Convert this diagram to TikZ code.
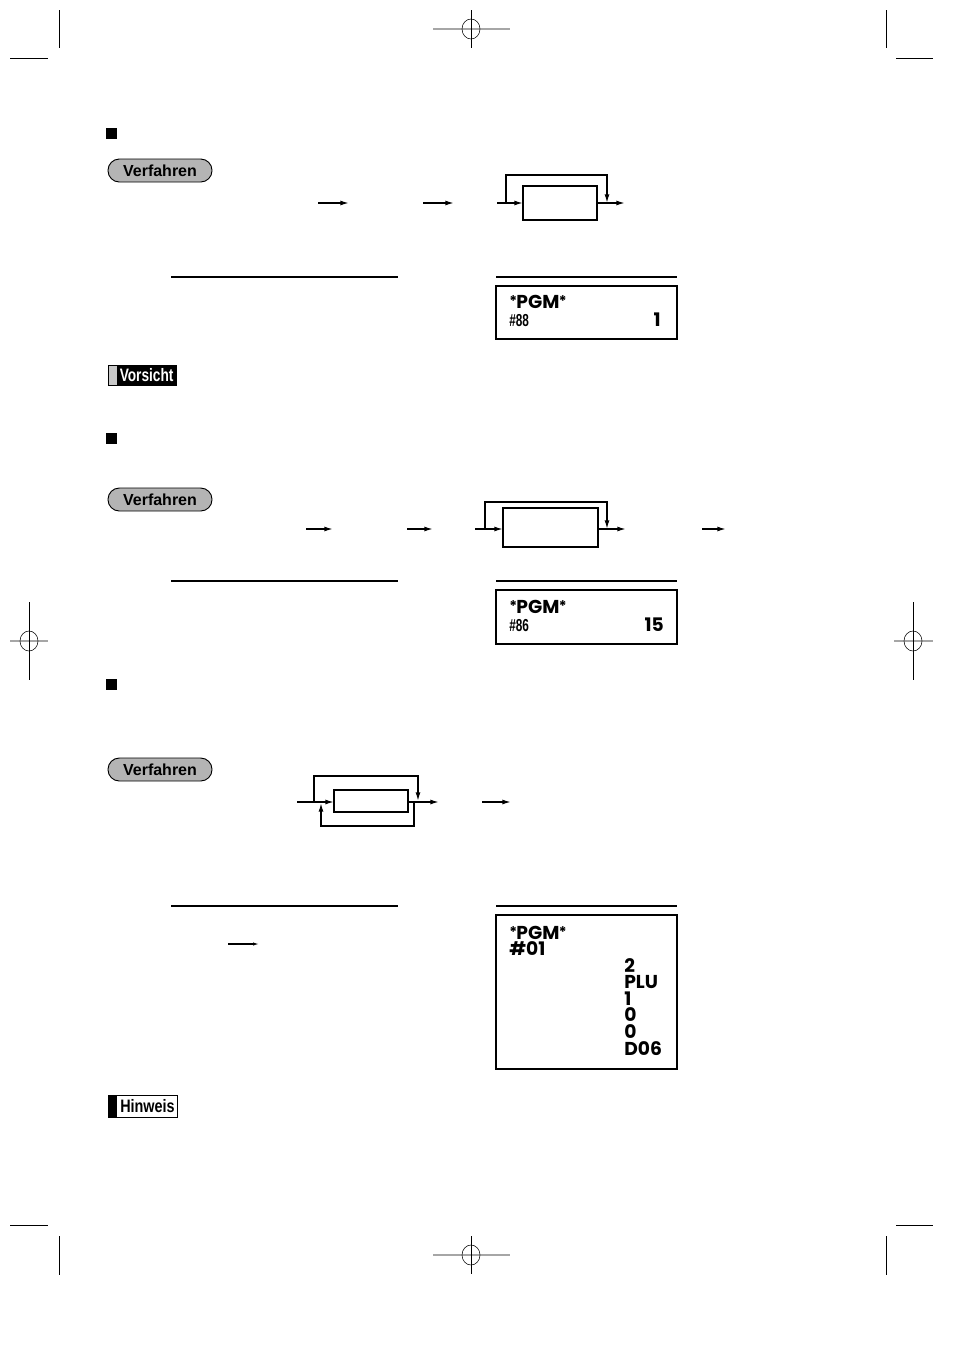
\documentclass[tikz,border=0pt]{standalone}
\usepackage{graphicx}
\usepackage{fontspec}
\setmainfont{Liberation Sans}
\newfontfamily\dispfont{Poppins}
\usetikzlibrary{arrows.meta}
\definecolor{pillgray}{HTML}{B4B4B4}
\definecolor{bargray}{HTML}{C8C8C8}
\newcommand\dispbig{\dispfont\bfseries\fontsize{14pt}{15pt}\selectfont}
\newcommand\dispcond[1]{\scalebox{0.68}[1]{\bfseries\fontsize{13pt}{14pt}\selectfont #1}}
\newcommand\smallast{\raisebox{1.5pt}{\fontsize{11pt}{12pt}\selectfont *}}
\newcommand\pgmtext{\smallast\kern-0.5pt PGM\kern-0.5pt\smallast}
\begin{document}
\begin{tikzpicture}[x=0.75pt,y=-0.75pt,
  flow/.style={line width=1.1pt,-{Latex[length=6.5pt,width=3.75pt]}},
  plain/.style={line width=1.1pt},
  rulel/.style={line width=0.8pt},
  emptybox/.style={draw,line width=1.1pt,inner sep=0pt,outer sep=0pt},
  display/.style={draw,line width=0.9pt,inner sep=0pt,outer sep=0pt,minimum width=135.75pt},
  pill/.style={draw,line width=0.7pt,fill=pillgray,rounded corners=8.5pt,minimum width=78pt,minimum height=17.25pt,inner sep=0pt,font=\bfseries\fontsize{12pt}{13pt}\selectfont},
  bullet/.style={fill=black,minimum size=8.25pt,inner sep=0pt},
  crop/.style={line width=0.6pt},
  regv/.style={line width=0.4pt},
  regh/.style={line width=1.1pt,gray!70},
  dtext/.style={inner sep=0pt,anchor=base west,font=\dispbig},
  dtextr/.style={inner sep=0pt,anchor=base east,font=\dispbig}
]
\useasboundingbox (0,0) rectangle (954,1350);

% ---------- crop and registration marks ----------
\coordinate (tl1) at (59,10); \coordinate (tl2) at (59,48);
\coordinate (tl3) at (10,58); \coordinate (tl4) at (48,58);
\draw[crop] (tl1) -- (tl2); \draw[crop] (tl3) -- (tl4);
\coordinate (tr1) at (886,10); \coordinate (tr2) at (886,48);
\coordinate (tr3) at (896,58); \coordinate (tr4) at (933,58);
\draw[crop] (tr1) -- (tr2); \draw[crop] (tr3) -- (tr4);
\coordinate (bl1) at (59,1236); \coordinate (bl2) at (59,1275);
\coordinate (bl3) at (10,1225); \coordinate (bl4) at (48,1225);
\draw[crop] (bl1) -- (bl2); \draw[crop] (bl3) -- (bl4);
\coordinate (br1) at (886,1236); \coordinate (br2) at (886,1275);
\coordinate (br3) at (896,1225); \coordinate (br4) at (933,1225);
\draw[crop] (br1) -- (br2); \draw[crop] (br3) -- (br4);

% registration: top
\coordinate (rt) at (471,29);
\draw[regh] ([xshift=-28.5pt]rt) -- ([xshift=29.25pt]rt);
\draw[regv] ([yshift=14.25pt]rt) -- ([yshift=-14.25pt]rt);
\draw[regv] (rt) ellipse [x radius=6.75pt,y radius=7.5pt];
% registration: bottom
\coordinate (rb) at (471,1255);
\draw[regh] ([xshift=-28.5pt]rb) -- ([xshift=29.25pt]rb);
\draw[regv] ([yshift=14.25pt]rb) -- ([yshift=-14.25pt]rb);
\draw[regv] (rb) ellipse [x radius=6.75pt,y radius=7.5pt];
% registration: left
\coordinate (rl) at (29,641);
\draw[regh] ([xshift=-14.25pt]rl) -- ([xshift=14.25pt]rl);
\draw[regv] ([yshift=29.25pt]rl) -- ([yshift=-29.25pt]rl);
\draw[regv] (rl) ellipse [x radius=6.75pt,y radius=7.5pt];
% registration: right
\coordinate (rr) at (913,641);
\draw[regh] ([xshift=-14.25pt]rr) -- ([xshift=15pt]rr);
\draw[regv] ([yshift=29.25pt]rr) -- ([yshift=-29.25pt]rr);
\draw[regv] (rr) ellipse [x radius=6.75pt,y radius=7.5pt];

% ================= Section 1 =================
\node[bullet] (sq1) at (111.5,133.5) {};
\node[pill] (pill1) at (160,170.5) {Verfahren};

\coordinate (a1s) at (318,203); \coordinate (a1e) at (349,203);
\draw[flow] (a1s) -- (a1e);
\coordinate (a2s) at (423,203); \coordinate (a2e) at (454,203);
\draw[flow] (a2s) -- (a2e);
\node[emptybox,minimum width=55.5pt,minimum height=25.5pt] (box1) at (560,203) {};
\coordinate (in1) at (497,203);
\draw[flow] (in1) -- (box1.west);
\coordinate (l1a) at (506,203); \coordinate (l1b) at (607,203);
\draw[flow] (l1a) -- ++(0,-28) -| (l1b);
\coordinate (out1) at (625,203);
\draw[flow] (box1.east) -- (out1);

\coordinate (r1a) at (171,277); \coordinate (r1b) at (398,277);
\draw[rulel] (r1a) -- (r1b);
\coordinate (r1c) at (496,277); \coordinate (r1d) at (677,277);
\draw[rulel] (r1c) -- (r1d);
\node[display,minimum height=39.75pt] (d1) at (586.5,312.5) {};
\node[dtext] (d1a) at (509,308) {\pgmtext};
\node[inner sep=0pt,anchor=base west] (d1b) at (509,326) {\dispcond{\#88}};
\node[dtextr] (d1c) at (661,326) {1};

% Vorsicht
\node[fill=black,minimum width=51.75pt,minimum height=15.75pt,inner sep=0pt] (vors) at (142.5,375) {};
\node[fill=bargray,minimum width=5.5pt,minimum height=14.25pt,inner sep=0pt] (vbar) at (113,375) {};
\node[inner sep=0pt,text=white,anchor=west] (vtxt) at (119.5,375.5) {\scalebox{0.76}[1]{\bfseries\fontsize{13.5pt}{14pt}\selectfont Vorsicht}};

% ================= Section 2 =================
\node[bullet] (sq2) at (111.5,438.5) {};
\node[pill] (pill2) at (160,499.5) {Verfahren};

\coordinate (b1s) at (306,529); \coordinate (b1e) at (333,529);
\draw[flow] (b1s) -- (b1e);
\coordinate (b2s) at (407,529); \coordinate (b2e) at (433,529);
\draw[flow] (b2s) -- (b2e);
\node[emptybox,minimum width=71.25pt,minimum height=29.25pt] (box2) at (550.5,527.5) {};
\coordinate (in2) at (475,529);
\draw[flow] (in2) -- (box2.west |- in2);
\coordinate (l2a) at (485,529); \coordinate (l2b) at (607,529);
\draw[flow] (l2a) -- ++(0,-27) -| (l2b);
\coordinate (out2) at (626,529);
\draw[flow] (box2.east |- out2) -- (out2);
\coordinate (b3s) at (702,529); \coordinate (b3e) at (726,529);
\draw[flow] (b3s) -- (b3e);

\coordinate (r2a) at (171,581); \coordinate (r2b) at (398,581);
\draw[rulel] (r2a) -- (r2b);
\coordinate (r2c) at (496,581); \coordinate (r2d) at (677,581);
\draw[rulel] (r2c) -- (r2d);
\node[display,minimum height=40.5pt] (d2) at (586.5,617) {};
\node[dtext] (d2a) at (509,613) {\pgmtext};
\node[inner sep=0pt,anchor=base west] (d2b) at (509,631) {\dispcond{\#86}};
\node[dtextr] (d2c) at (664,631) {15};

% ================= Section 3 =================
\node[bullet] (sq3) at (111.5,684) {};
\node[pill] (pill3) at (160,769.5) {Verfahren};

\node[emptybox,minimum width=55.5pt,minimum height=16.5pt] (box3) at (371,801) {};
\coordinate (in3) at (297,802);
\draw[flow] (in3) -- (box3.west |- in3);
\coordinate (t3a) at (314,802); \coordinate (t3b) at (418,801);
\draw[flow] (t3a) -- ++(0,-26) -| (t3b);
\coordinate (u3a) at (414,802); \coordinate (u3b) at (321,803);
\draw[flow] (u3a) -- ++(0,24) -| (u3b);
\coordinate (out3) at (439,802);
\draw[flow] (box3.east |- out3) -- (out3);
\coordinate (c1s) at (482,802); \coordinate (c1e) at (511,802);
\draw[flow] (c1s) -- (c1e);

\coordinate (r3a) at (171,906); \coordinate (r3b) at (398,906);
\draw[rulel] (r3a) -- (r3b);
\coordinate (r3c) at (496,906); \coordinate (r3d) at (677,906);
\draw[rulel] (r3c) -- (r3d);
\coordinate (s1s) at (228,944); \coordinate (s1e) at (259,944);
\draw[line width=0.8pt,-{Latex[length=4.5pt,width=2.5pt]}] (s1s) -- (s1e);

\node[display,minimum height=115.5pt] (d3) at (586.5,992) {};
\node[dtext] (d3a) at (509,939) {\pgmtext};
\node[dtext] (d3b) at (509,955) {\#01};
\node[dtext] (d3c) at (624,972) {2};
\node[dtext] (d3d) at (624,988) {PLU};
\node[dtext] (d3e) at (624,1005) {1};
\node[dtext] (d3f) at (624,1021) {0};
\node[dtext] (d3g) at (624,1038) {0};
\node[dtext] (d3h) at (624,1055) {D06};

% Hinweis
\node[draw,line width=0.6pt,fill=white,minimum width=51.75pt,minimum height=16.5pt,inner sep=0pt] (hinw) at (142.5,1106) {};
\node[fill=black,minimum width=6.75pt,minimum height=16.5pt,inner sep=0pt] (hbar) at (112.5,1106) {};
\node[inner sep=0pt,anchor=west] (htxt) at (120,1106.5) {\scalebox{0.8}[1]{\bfseries\fontsize{13.5pt}{14pt}\selectfont Hinweis}};
\end{tikzpicture}
\end{document}
